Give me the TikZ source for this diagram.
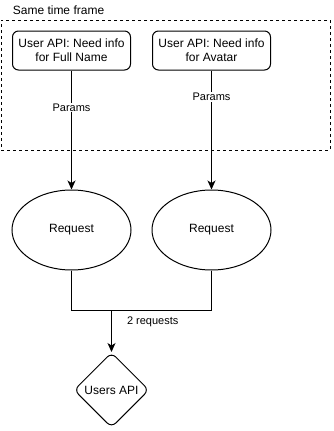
\documentclass[tikz,border=0pt]{standalone}
\usepackage{fontspec}
\setmainfont{Liberation Sans}
\usetikzlibrary{shapes.geometric,arrows.meta,positioning,calc}

\begin{document}
\begin{tikzpicture}[x=1pt,y=-1pt,line width=1pt,
    font=\fontsize{12}{14}\selectfont,
    infobox/.style={draw,rounded corners=6pt,minimum width=118pt,minimum height=39pt,align=center,inner sep=0pt},
    reqnode/.style={draw,ellipse,minimum width=119pt,minimum height=80pt,inner sep=0pt},
    apinode/.style={draw,diamond,rounded corners=6pt,minimum width=75pt,minimum height=75pt,inner sep=0pt},
    framebox/.style={draw,dash pattern=on 3pt off 3pt,minimum width=329pt,minimum height=130pt,inner sep=0pt},
    lbl/.style={fill=white,inner sep=1pt,font=\fontsize{11}{13}\selectfont},
    >={Stealth[length=9pt,width=8pt,inset=2.5pt]}]
      \useasboundingbox (0,0) rectangle (333,431);
      % group of the two calls
      \node[framebox,anchor=north west] (frame) at (0.5,19.5) {};
      \node[anchor=west] (frametitle) at (9,10) {Same time frame};
      \node[infobox] (fullname) at (71.5,50.5) {User API: Need info\\for Full Name};
      \node[infobox] (avatar) at (211.5,50.5) {User API: Need info\\for Avatar};
      % requests
      \node[reqnode] (req1) at (71.5,230) {Request};
      \node[reqnode] (req2) at (211.5,230) {Request};
      \draw[->] (fullname) -- node[lbl,pos=0.31] {Params} (req1);
      \draw[->] (avatar) -- node[lbl,pos=0.22] {Params} (req2);
      % both requests go to the API
      \node[apinode] (api) at (111.5,390) {Users API};
      \coordinate (join) at (111.5,310);
      \draw (req1.south) -- ++(0,40) -| (req2.south);
      \draw[->] (join) -- node[lbl,pos=0.29,anchor=west,xshift=14pt] {2 requests} (api);
    \end{tikzpicture}
\end{document}
